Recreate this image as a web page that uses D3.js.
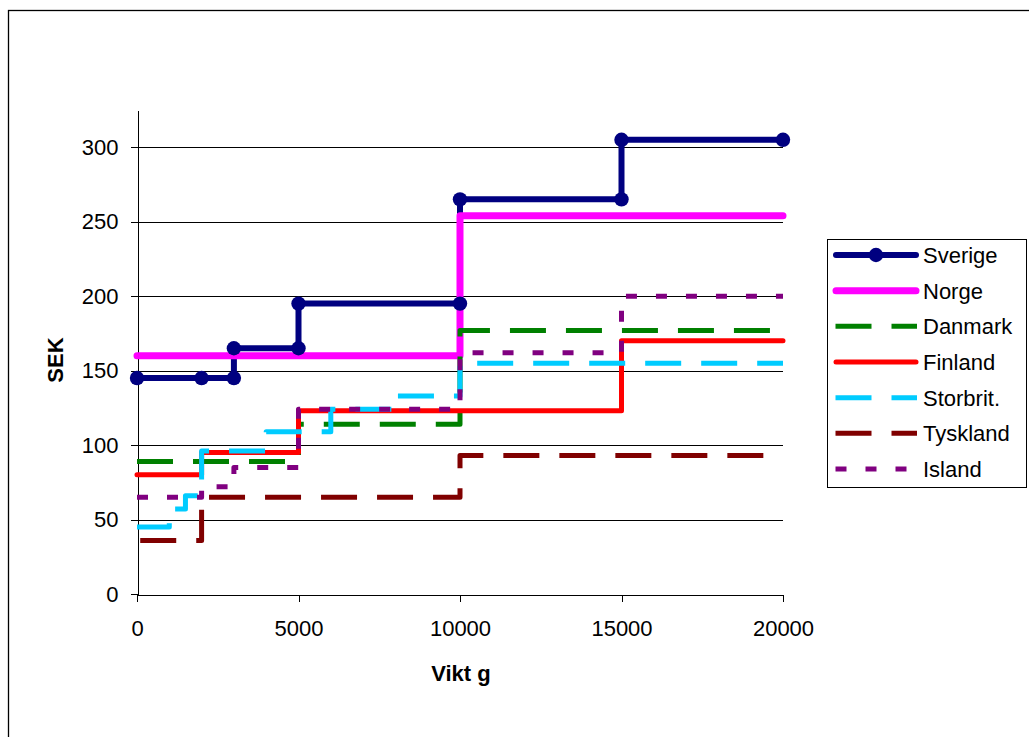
<!DOCTYPE html>
<html><head><meta charset="utf-8">
<script src="https://cdn.jsdelivr.net/npm/d3@7"></script>
<style>
body{margin:0;background:#fff}
svg{display:block}
text{font-family:"Liberation Sans",Arial,sans-serif;fill:#000}
</style>
</head><body><svg id="c" width="1029" height="737"></svg>
<script>
// ---- data ----
const seriesNames = ["Sverige","Norge","Danmark","Finland","Storbrit.","Tyskland","Island"];
const sverige  = [[0,145],[2000,145],[3000,145],[3000,165],[5000,165],[5000,195],[10000,195],[10000,265],[15000,265],[15000,305],[20000,305]];
const norge    = [[0,160],[10000,160],[10000,254],[20000,254]];
const danmark  = [[0,89],[5000,89],[5000,114],[10000,114],[10000,177],[20000,177]];
const finland  = [[0,80],[2000,80],[2000,95],[5000,95],[5000,123],[15000,123],[15000,170],[20000,170]];
const storbrit = [[0,45],[1000,45],[1000,57],[1500,57],[1500,66],[2000,66],[2000,96],[4000,96],[4000,109],[6000,109],[6000,124],[8000,124],[8000,133],[10000,133],[10000,155],[20000,155]];
const tyskland = [[100,36],[2000,36],[2000,65],[10000,65],[10000,93],[20000,93]];
const island   = [[0,65],[2000,65],[2000,72],[3000,72],[3000,85],[5000,85],[5000,124],[10000,124],[10000,162],[15000,162],[15000,200],[20000,200]];
const xTicks = [0,5000,10000,15000,20000];
const yTicks = [0,50,100,150,200,250,300];
const xTitle = "Vikt g";
const yTitle = "SEK";

// ---- styles ----
const seriesData = [sverige, norge, danmark, finland, storbrit, tyskland, island];
const styles = [
  {color:"#000080", width:6, dash:null, marker:true},
  {color:"#FF00FF", width:7, dash:null},
  {color:"#008000", width:5, dash:"36,20"},
  {color:"#FF0000", width:5, dash:null},
  {color:"#00CCFF", width:5, dash:"36,20"},
  {color:"#800000", width:5, dash:"36,20"},
  {color:"#800080", width:5, dash:"11,19"}
];
const FS = 22;

const svg = d3.select("#c");
const x = d3.scaleLinear().domain([0,20000]).range([137,783]);
const y = d3.scaleLinear().domain([0,325]).range([594,110]);

// outer border
svg.append("rect").attr("x",8.5).attr("y",10.5).attr("width",1040).attr("height",760)
  .attr("fill","none").attr("stroke","#000").attr("stroke-width",1.3);

// gridlines
svg.append("g").selectAll("line").data(yTicks.filter(d=>d>0)).join("line")
  .attr("x1",x(0)).attr("x2",x(20000))
  .attr("y1",d=>Math.round(y(d))+0.5).attr("y2",d=>Math.round(y(d))+0.5)
  .attr("stroke","#000").attr("stroke-width",1);

// axes
const yAxis = svg.append("g").attr("transform","translate(137.5,0)")
  .call(d3.axisLeft(y).tickValues(yTicks).tickSize(7).tickSizeOuter(0).tickPadding(12).tickFormat(d3.format("d")));
const xAxis = svg.append("g").attr("transform","translate(0,594.5)")
  .call(d3.axisBottom(x).tickValues(xTicks).tickSize(7).tickSizeOuter(0).tickPadding(19).tickFormat(d3.format("d")));
[yAxis,xAxis].forEach(a=>{
  a.selectAll("path,line").attr("stroke","#000").attr("stroke-width",1).attr("shape-rendering","crispEdges");
  a.selectAll("text").attr("font-size",FS).attr("font-family",'"Liberation Sans",Arial,sans-serif').attr("fill","#000");
});

// titles
svg.append("text").attr("transform","translate(62.5,360) rotate(-90)").attr("text-anchor","middle")
  .attr("font-size",FS).attr("font-weight","bold").text(yTitle);
svg.append("text").attr("x",461).attr("y",681).attr("text-anchor","middle")
  .attr("font-size",FS).attr("font-weight","bold").text(xTitle);

// series lines
const line = d3.line().x(d=>x(d[0])).y(d=>y(d[1]));
seriesData.forEach((data,i)=>{
  const s = styles[i];
  svg.append("path").attr("d",line(data)).attr("fill","none")
    .attr("stroke",s.color).attr("stroke-width",s.width)
    .attr("stroke-linejoin","round")
    .attr("stroke-linecap", s.dash ? "butt" : "round")
    .attr("stroke-dasharray", s.dash);
});
// markers
seriesData.forEach((data,i)=>{
  const s = styles[i];
  if(!s.marker) return;
  svg.append("g").selectAll("circle").data(data).join("circle")
    .attr("cx",d=>x(d[0])).attr("cy",d=>y(d[1])).attr("r",7.2).attr("fill",s.color);
});

// legend
const lg = svg.append("g");
lg.append("rect").attr("x",827.5).attr("y",239.5).attr("width",199).attr("height",248)
  .attr("fill","#fff").attr("stroke","#000").attr("stroke-width",1);
seriesNames.forEach((name,i)=>{
  const s = styles[i];
  const cy = 255 + i*35.67;
  const x1 = s.dash ? 835.5 : 836, x2 = s.dash ? 917 : 916;
  lg.append("line").attr("x1",x1).attr("x2",x2).attr("y1",cy).attr("y2",cy)
    .attr("stroke",s.color).attr("stroke-width",s.width)
    .attr("stroke-linecap", s.dash ? "butt" : "round")
    .attr("stroke-dasharray", s.dash);
  if(s.marker) lg.append("circle").attr("cx",876).attr("cy",cy).attr("r",7.2).attr("fill",s.color);
  lg.append("text").attr("x",923).attr("y",cy).attr("dy","0.36em").attr("font-size",FS).text(name);
});
</script></body></html>
